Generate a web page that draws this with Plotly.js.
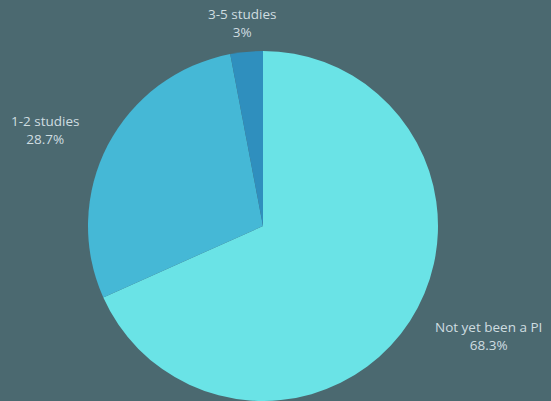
<!DOCTYPE html>
<html>
<head>
<meta charset="utf-8">
<script src="https://cdn.plot.ly/plotly-3.0.1.min.js"></script>
<style>html,body{margin:0;padding:0;background:#4b6970;}#chart{width:551px;height:401px;}</style>
</head>
<body>
<div id="chart"></div>
<script>
const categories = ["Not yet been a PI", "1-2 studies", "3-5 studies"];
const shares = [68.3, 28.7, 3];
const sliceColors = ["#6ae3e6", "#45b8d6", "#2f8fbe"];

// label anchor positions (paper coords) for outside labels
const labelX = [0.886, 0.083, 0.441];
const labelY = [0.162, 0.675, 0.943];

const annotations = categories.map((c, i) => ({
  xref: "paper", yref: "paper",
  x: labelX[i], y: labelY[i],
  xanchor: "center", yanchor: "middle",
  text: c + "<br>" + shares[i] + "%",
  showarrow: false,
  font: {family: "Open Sans, sans-serif", size: 13.5, color: "#cfdde0"}
}));

const data = [{
  type: "pie",
  labels: categories,
  values: shares,
  sort: false,
  direction: "clockwise",
  rotation: 0,
  textinfo: "none",
  hoverinfo: "label+percent",
  marker: {colors: sliceColors, line: {width: 0}},
  domain: {x: [88/551, 438/551], y: [0, 350/401]},
  automargin: false
}];

const layout = {
  width: 551, height: 401,
  margin: {l: 0, r: 0, t: 0, b: 0},
  paper_bgcolor: "#4b6970",
  plot_bgcolor: "#4b6970",
  showlegend: false,
  annotations: annotations
};

Plotly.newPlot("chart", data, layout, {displayModeBar: false, staticPlot: true});
</script>
</body>
</html>
